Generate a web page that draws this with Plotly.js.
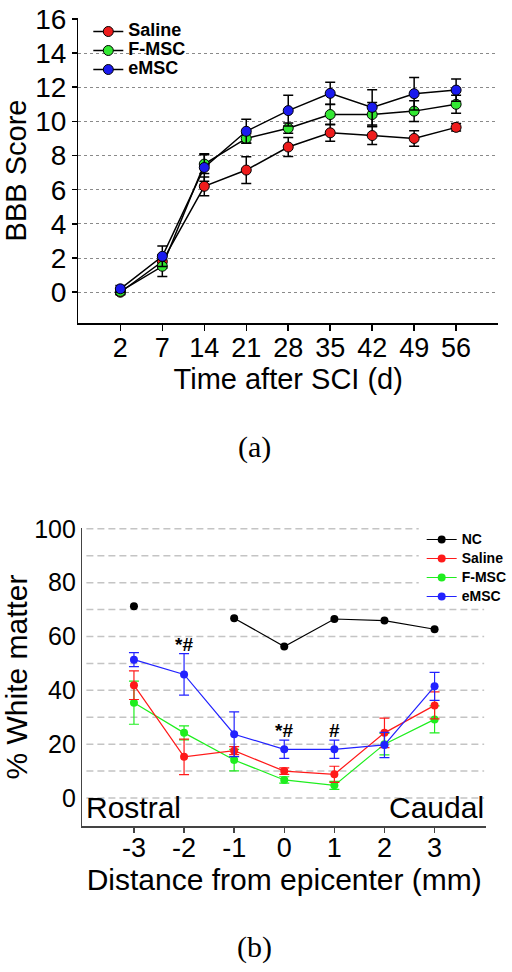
<!DOCTYPE html>
<html>
<head>
<meta charset="utf-8">
<script src="https://cdn.plot.ly/plotly-3.0.1.min.js"></script>
<style>html,body{margin:0;padding:0;background:#fff;}#chart{width:512px;height:972px;}</style>
</head>
<body>
<div id="chart"></div>
<script>
// ---------- Panel (a): BBB score ----------
const dayLabels = ['2', '7', '14', '21', '28', '35', '42', '49', '56'];
const salineBBB = [0, 1.8, 6.2, 7.15, 8.5, 9.33, 9.17, 9.0, 9.65];
const salineBBBErr = [0.15, 0.4, 0.55, 0.78, 0.55, 0.5, 0.53, 0.45, 0.22];
const fmscBBB = [0.05, 1.52, 7.5, 9.0, 9.6, 10.4, 10.4, 10.6, 11.0];
const fmscBBBErr = [0.15, 0.6, 0.55, 0.27, 0.3, 0.6, 0.7, 0.6, 0.53];
const emscBBB = [0.2, 2.1, 7.3, 9.42, 10.63, 11.64, 10.82, 11.62, 11.83];
const emscBBBErr = [0.2, 0.6, 0.8, 0.7, 0.9, 0.65, 1.03, 0.95, 0.65];
const sigDaysA = ['49', '56'];
const sigLevelA = [13.25, 13.25];
const sigTextA = ['*', '*'];
const bbbTicks = [0, 2, 4, 6, 8, 10, 12, 14, 16];

// ---------- Panel (b): % white matter ----------
const distances = [-3, -2, -1, 0, 1, 2, 3];
const distanceLabels = ['-3', '-2', '-1', '0', '1', '2', '3'];
const ncWM = [71.2, null, 66.8, 56.3, 66.5, 65.9, 62.7];
const salineWM = [41.9, 15.3, 17.6, 10.0, 8.8, 24.2, 34.4];
const salineWMErr = [5.3, 6.6, 1.5, 1.2, 3.0, 5.5, 5.0];
const fmscWM = [35.4, 24.2, 14.1, 6.7, 4.7, 20.0, 29.2];
const fmscWMErr = [8.0, 2.6, 4.0, 1.2, 1.5, 4.0, 5.0];
const emscWM = [51.4, 45.9, 23.7, 18.1, 18.1, 19.7, 41.5];
const emscWMErr = [2.6, 7.7, 8.3, 3.4, 3.4, 4.7, 5.2];
const sigPosB = [-2, 0, 1];
const sigLevelB = [57, 25, 25];
const sigTextB = ['*#', '*#', '#'];
const wmTicks = [0, 20, 40, 60, 80, 100];
const gridValsB = [0, 10, 20, 30, 40, 50, 60, 70, 80, 90, 100];
const gridShortB = [80, 90, 100];

const colA = {saline: '#ee1c1c', fmsc: '#33e833', emsc: '#1a1aee'};
const colB = {nc: '#000000', saline: '#ff1a1a', fmsc: '#1fee1f', emsc: '#2222ff'};
const SANS = 'Liberation Sans, Arial, sans-serif';

function traceA(name, y, err, color) {
  return {
    type: 'scatter', mode: 'lines+markers', x: dayLabels, y: y,
    name: '<span style="font-size:18px">' + name + '</span>',
    xaxis: 'x', yaxis: 'y', legend: 'legend',
    line: {color: '#000', width: 1.5},
    marker: {color: color, size: 10, line: {color: '#000', width: 1}},
    error_y: {type: 'data', array: err, visible: true, color: '#000', thickness: 1.5, width: 5}
  };
}
function traceB(name, y, err, color, rank) {
  const t = {
    type: 'scatter', mode: 'lines+markers', x: distances, y: y,
    name: '<span style="font-size:14px">' + name + '</span>',
    xaxis: 'x2', yaxis: 'y2', legend: 'legend2', legendrank: rank,
    connectgaps: false,
    line: {color: color, width: 1.2},
    marker: {color: color, size: 8}
  };
  if (err) t.error_y = {type: 'data', array: err, visible: true, color: color, thickness: 1.2, width: 5};
  return t;
}

const data = [
  traceA('Saline', salineBBB, salineBBBErr, colA.saline),
  traceA('F-MSC', fmscBBB, fmscBBBErr, colA.fmsc),
  traceA('eMSC', emscBBB, emscBBBErr, colA.emsc),
  traceB('NC', ncWM, null, colB.nc, 1),
  traceB('F-MSC', fmscWM, fmscWMErr, colB.fmsc, 3),
  traceB('Saline', salineWM, salineWMErr, colB.saline, 2),
  traceB('eMSC', emscWM, emscWMErr, colB.emsc, 4)
];

const shapes = gridValsB.map(v => ({
  type: 'line', xref: 'x2 domain', yref: 'y2', layer: 'below',
  x0: 0.01, x1: gridShortB.includes(v) ? 0.833 : 0.995, y0: v, y1: v,
  line: {color: '#c4c4c4', width: 1.5, dash: '7px,4px'}
}));

const annotations = [];
sigDaysA.forEach((d, i) => annotations.push({
  xref: 'x', yref: 'y', x: d, y: sigLevelA[i], text: sigTextA[i], showarrow: false,
  font: {family: SANS, size: 24, color: '#000'}
}));
sigPosB.forEach((d, i) => annotations.push({
  xref: 'x2', yref: 'y2', x: d, y: sigLevelB[i], text: '<b>' + sigTextB[i] + '</b>', showarrow: false,
  font: {family: SANS, size: 19, color: '#000'}
}));
annotations.push(
  {xref: 'x2 domain', yref: 'y2', x: 0.005, y: -3.7, xanchor: 'left', yanchor: 'middle', text: 'Rostral', showarrow: false,
   font: {family: SANS, size: 30, color: '#000'}},
  {xref: 'x2 domain', yref: 'y2', x: 1.0, y: -3.7, xanchor: 'right', yanchor: 'middle', text: 'Caudal', showarrow: false,
   font: {family: SANS, size: 30, color: '#000'}},
  {xref: 'paper', yref: 'paper', x: 0.5, y: 1 - 447 / 972, xanchor: 'center', yanchor: 'middle', text: '(a)', showarrow: false,
   font: {family: 'Liberation Serif, DejaVu Serif, serif', size: 30, color: '#000'}},
  {xref: 'paper', yref: 'paper', x: 0.5, y: 1 - 947 / 972, xanchor: 'center', yanchor: 'middle', text: '(b)', showarrow: false,
   font: {family: 'Liberation Serif, DejaVu Serif, serif', size: 30, color: '#000'}}
);

const layout = {
  width: 512, height: 972,
  margin: {l: 0, r: 0, t: 0, b: 0},
  paper_bgcolor: '#fff', plot_bgcolor: 'rgba(0,0,0,0)',
  showlegend: true,
  xaxis: {
    domain: [79 / 512, 502 / 512], anchor: 'y', type: 'category', range: [-1, 9],
    showline: true, linecolor: '#000', linewidth: 1.5, showgrid: false, zeroline: false,
    ticks: 'outside', ticklen: 6, tickwidth: 1.5, tickcolor: '#000',
    tickfont: {family: SANS, size: 27, color: '#000'}, ticklabelstandoff: -6,
    title: {text: 'Time after SCI (d)', font: {family: SANS, size: 29, color: '#000'}, standoff: 4}, automargin: false
  },
  yaxis: {
    domain: [1 - 323 / 972, 1 - 18 / 972], anchor: 'x', range: [-1.8, 16.05],
    tickvals: bbbTicks,
    showline: true, linecolor: '#000', linewidth: 1.5, zeroline: false,
    showgrid: true, gridcolor: '#8a8a8a', gridwidth: 1, griddash: 'dot',
    ticks: 'outside', ticklen: 5, tickwidth: 1.5, tickcolor: '#000',
    tickfont: {family: SANS, size: 28, color: '#000'},
    title: {text: 'BBB Score', font: {family: SANS, size: 29, color: '#000'}, standoff: 6}, automargin: false
  },
  xaxis2: {
    domain: [83 / 512, 490 / 512], anchor: 'y2', range: [-4.03, 4.03],
    tickvals: distances, ticktext: distanceLabels,
    showline: true, linecolor: '#444', linewidth: 1.5, showgrid: false, zeroline: false,
    ticks: 'outside', ticklen: 5, tickwidth: 1.5, tickcolor: '#444',
    tickfont: {family: SANS, size: 27, color: '#000'}, ticklabelstandoff: -8,
    title: {text: 'Distance from epicenter (mm)', font: {family: SANS, size: 30, color: '#000'}, standoff: 4},
    automargin: false
  },
  yaxis2: {
    domain: [1 - 826 / 972, 1 - 528 / 972], anchor: 'x2', range: [-10.4, 100.3],
    tickvals: wmTicks,
    showline: true, linecolor: '#444', linewidth: 1.5, showgrid: false, zeroline: false,
    ticks: '', tickfont: {family: SANS, size: 25, color: '#000'},
    title: {text: '% White matter', font: {family: SANS, size: 30, color: '#000'}, standoff: 4},
    automargin: false
  },
  legend: {
    x: 89 / 512, y: 1 - 17 / 972, xanchor: 'left', yanchor: 'top',
    bgcolor: 'rgba(0,0,0,0)', borderwidth: 0,
    font: {family: SANS, size: 12, color: '#000', weight: 'bold'},
    tracegroupgap: 0
  },
  legend2: {
    x: 425 / 512, y: 1 - 525 / 972, xanchor: 'left', yanchor: 'top',
    bgcolor: 'rgba(0,0,0,0)', borderwidth: 0,
    font: {family: SANS, size: 11, color: '#000', weight: 'bold'},
    tracegroupgap: 0, traceorder: 'normal'
  },
  shapes: shapes,
  annotations: annotations
};

Plotly.newPlot('chart', data, layout, {displayModeBar: false, staticPlot: true});
</script>
</body>
</html>
